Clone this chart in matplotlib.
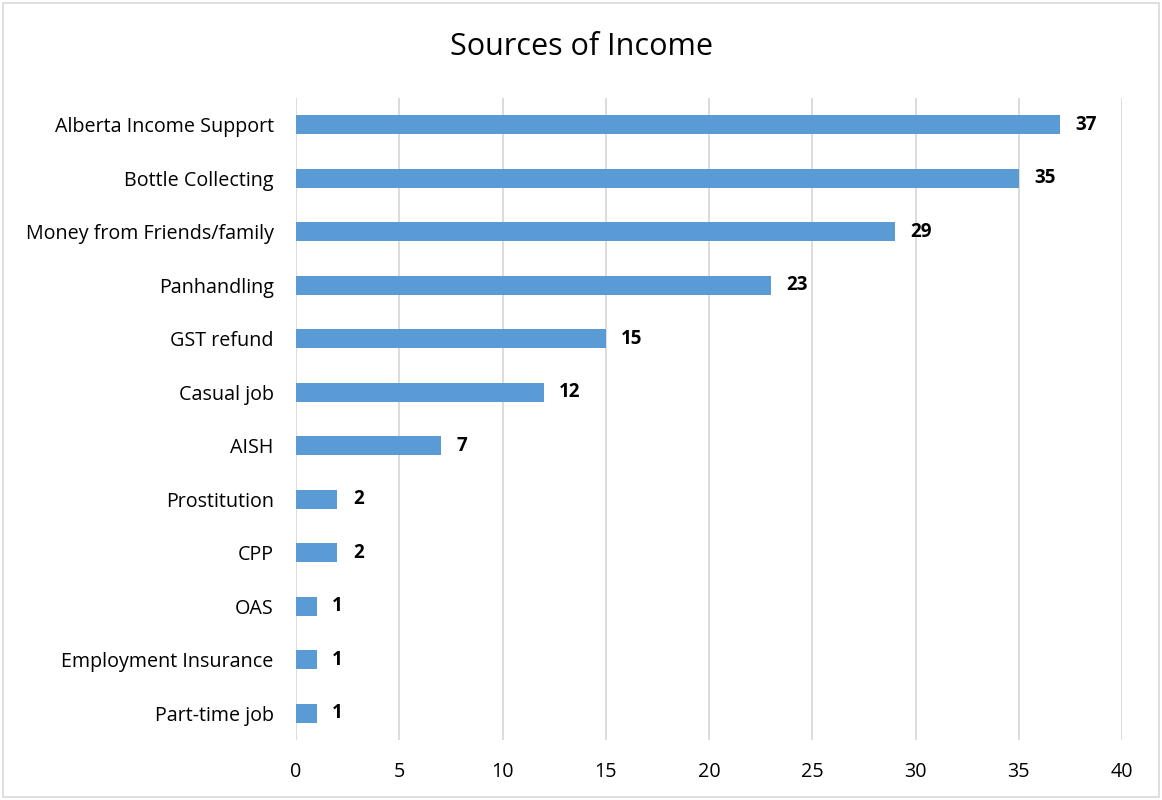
import matplotlib.pyplot as plt
from matplotlib.patches import Rectangle

# data, top to bottom as shown in the chart
categories = ["Alberta Income Support", "Bottle Collecting", "Money from Friends/family",
              "Panhandling", "GST refund", "Casual job", "AISH", "Prostitution",
              "CPP", "OAS", "Employment Insurance", "Part-time job"]
counts = [37, 35, 29, 23, 15, 12, 7, 2, 2, 1, 1, 1]
x_ticks = [0, 5, 10, 15, 20, 25, 30, 35, 40]

plt.rcParams['font.family'] = ['Open Sans', 'DejaVu Sans']

fig = plt.figure(figsize=(11.62, 8), dpi=100)
ax = fig.add_axes([296 / 1162, 60 / 800, 826 / 1162, 642 / 800])

# reverse so the first category sits on top
ypos = list(range(len(categories)))[::-1]
ax.barh(ypos, counts, height=0.35, color="#5B9BD5", zorder=3)

for y, v in zip(ypos, counts):
    ax.text(v + 0.75, y, str(v), va="center", ha="left",
            fontsize=13.5, fontweight="bold", color="black")

ax.set_xlim(0, 40)
ax.set_ylim(-0.5, len(categories) - 0.5)
ax.set_xticks(x_ticks)
ax.set_yticks(ypos)
ax.set_yticklabels(categories)
ax.tick_params(axis="both", length=0, labelsize=14.2, colors="black")
ax.tick_params(axis="y", pad=16)
ax.tick_params(axis="x", pad=16)
ax.grid(axis="x", color="#D9D9D9", linewidth=1.3, zorder=0)
for s in ax.spines.values():
    s.set_visible(False)

fig.text(0.5, 1 - 47 / 800, "Sources of Income", ha="center", va="center",
         fontsize=22, color="black")

# light outer border of the chart area
fig.patches.append(Rectangle((3 / 1162, 3 / 800), 1 - 6 / 1162, 1 - 6 / 800,
                             transform=fig.transFigure, fill=False,
                             edgecolor="#D9D9D9", linewidth=1.2))

plt.savefig("out.png", dpi=100)
